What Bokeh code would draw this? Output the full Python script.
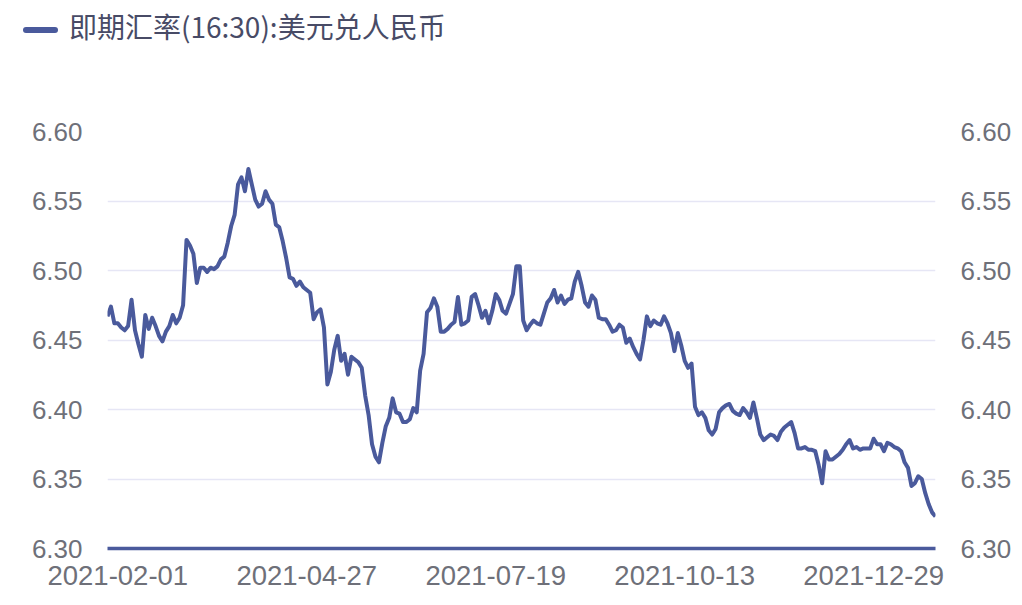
from bokeh.plotting import figure
from bokeh.layouts import column
from bokeh.models import (Range1d, LinearAxis, FixedTicker, Div,
                          ColumnDataSource, CustomJSTickFormatter)
from bokeh.embed import file_html
from bokeh.resources import INLINE

series_name = "即期汇率(16:30):美元兑人民币"

rate = [
    6.467, 6.474, 6.462, 6.462, 6.459, 6.457, 6.460, 6.479, 6.457, 6.447,
    6.438, 6.468, 6.458, 6.466, 6.460, 6.453, 6.449, 6.456, 6.460, 6.468,
    6.462, 6.466, 6.475, 6.522, 6.518, 6.512, 6.491, 6.502, 6.502, 6.499,
    6.502, 6.501, 6.503, 6.508, 6.510, 6.520, 6.532, 6.540, 6.562, 6.567,
    6.557, 6.573, 6.562, 6.551, 6.546, 6.548, 6.557, 6.551, 6.548, 6.533,
    6.531, 6.521, 6.509, 6.495, 6.494, 6.489, 6.492, 6.488, 6.486, 6.484,
    6.465, 6.470, 6.472, 6.459, 6.418, 6.427, 6.443, 6.453, 6.435, 6.440,
    6.425, 6.438, 6.436, 6.434, 6.430, 6.410, 6.396, 6.375, 6.366, 6.362,
    6.376, 6.388, 6.394, 6.408, 6.398, 6.397, 6.391, 6.391, 6.393, 6.401,
    6.398, 6.428, 6.440, 6.470, 6.473, 6.480, 6.474, 6.456, 6.456, 6.458,
    6.461, 6.463, 6.481, 6.461, 6.462, 6.464, 6.481, 6.483, 6.475, 6.466,
    6.471, 6.462, 6.471, 6.483, 6.479, 6.471, 6.469, 6.476, 6.483, 6.503,
    6.503, 6.464, 6.457, 6.461, 6.464, 6.462, 6.461, 6.469, 6.477, 6.480,
    6.486, 6.477, 6.482, 6.476, 6.479, 6.480, 6.492, 6.499, 6.489, 6.477,
    6.474, 6.482, 6.479, 6.466, 6.465, 6.465, 6.461, 6.456, 6.457, 6.461,
    6.459, 6.448, 6.451, 6.445, 6.440, 6.436, 6.450, 6.467, 6.460, 6.464,
    6.462, 6.461, 6.467, 6.462, 6.455, 6.442, 6.455, 6.446, 6.435, 6.430,
    6.433, 6.402, 6.396, 6.398, 6.394, 6.385, 6.382, 6.386, 6.398, 6.401,
    6.403, 6.404, 6.399, 6.397, 6.396, 6.401, 6.398, 6.394, 6.405, 6.394,
    6.382, 6.378, 6.380, 6.382, 6.381, 6.378, 6.384, 6.387, 6.389, 6.391,
    6.383, 6.372, 6.372, 6.373, 6.371, 6.371, 6.370, 6.360, 6.347, 6.370,
    6.364, 6.364, 6.366, 6.368, 6.371, 6.375, 6.378, 6.372, 6.373, 6.371,
    6.372, 6.372, 6.372, 6.379, 6.375, 6.375, 6.370, 6.376, 6.375, 6.373,
    6.372, 6.370, 6.362, 6.358, 6.345, 6.347, 6.352, 6.350, 6.340, 6.332,
    6.326, 6.323,
]

# category index of each shown date label (every 55th trading day)
tick_index = [3, 58, 113, 168, 223]
tick_labels = ["2021-02-01", "2021-04-27", "2021-07-19", "2021-10-13", "2021-12-29"]

y_ticks = [6.30, 6.35, 6.40, 6.45, 6.50, 6.55, 6.60]

LINE = "#4a5a9c"
LABEL = "#6e7079"
W = 1016

# ---- legend strip ----
legend_html = (
    '<div style="position:relative;width:%dpx;height:100px;">'
    '<span style="position:absolute;left:23px;top:27px;width:35px;height:6px;'
    'border-radius:3px;background:%s;"></span>'
    '<span style="position:absolute;left:69px;top:8px;font-family:\'Noto Sans CJK SC\';'
    'font-size:28px;line-height:36px;color:#484b66;white-space:nowrap;">%s</span>'
    '</div>' % (W, LINE, series_name)
)
lg = Div(text=legend_html, width=W, height=100, margin=0)

# ---- main chart ----
src = ColumnDataSource(dict(x=list(range(len(rate))), y=rate))

p = figure(width=W, height=497, output_backend="svg", toolbar_location=None,
           x_range=Range1d(0, len(rate) - 1), y_range=Range1d(6.30, 6.60),
           min_border_left=107, min_border_right=81, min_border_top=31, min_border_bottom=49)
p.outline_line_color = None

p.line("x", "y", source=src, line_color=LINE, line_width=4, line_join="round")

xa = p.xaxis[0]
xa.ticker = FixedTicker(ticks=tick_index)
xa.major_label_overrides = {i: s for i, s in zip(tick_index, tick_labels)}
xa.axis_line_color = LINE
xa.axis_line_width = 3.5
xa.major_tick_line_color = None
xa.major_tick_out = 0
xa.minor_tick_line_color = None
xa.minor_tick_out = 0
xa.major_label_text_font = "Liberation Sans"
xa.major_label_text_font_size = "27.5px"
xa.major_label_text_color = LABEL
xa.major_label_standoff = 17

ya = p.yaxis[0]
ra = LinearAxis()
p.add_layout(ra, "right")
fmt = CustomJSTickFormatter(code="return tick.toFixed(2);")
for ax in (ya, ra):
    ax.ticker = FixedTicker(ticks=y_ticks)
    ax.formatter = fmt
    ax.axis_line_color = None
    ax.major_tick_line_color = None
    ax.major_tick_out = 0
    ax.minor_tick_line_color = None
    ax.minor_tick_out = 0
    ax.major_label_text_font = "Liberation Sans"
    ax.major_label_text_font_size = "26px"
    ax.major_label_text_color = LABEL
    ax.major_label_standoff = 25

p.xgrid.grid_line_color = None
p.ygrid.ticker = FixedTicker(ticks=y_ticks)
p.ygrid.grid_line_color = "#e6e6f5"
p.ygrid.grid_line_width = 1.5

layout = column(lg, p, spacing=0)
open("out.html", "w").write(file_html(layout, INLINE))
